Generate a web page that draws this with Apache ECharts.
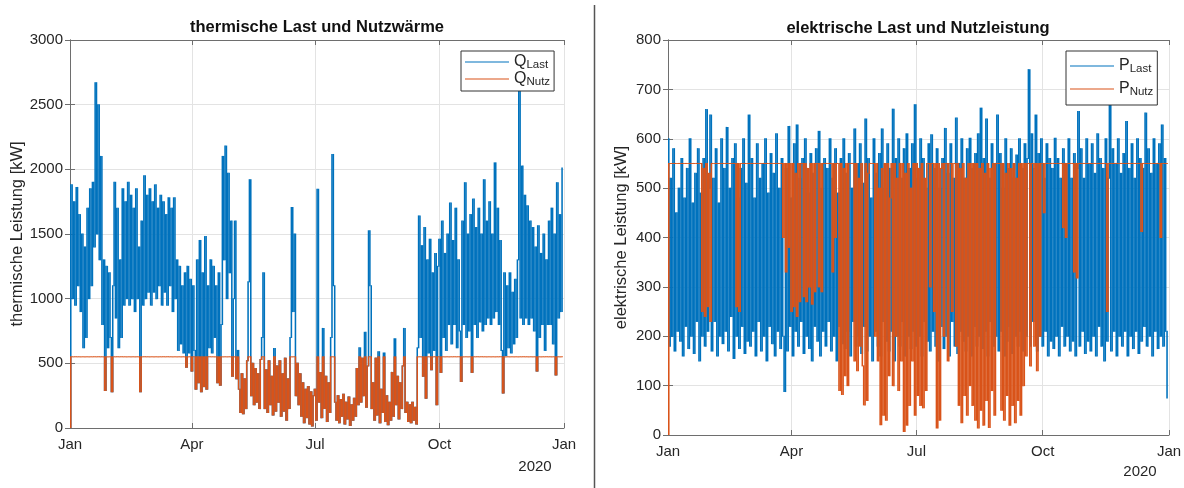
<!DOCTYPE html>
<html>
<head>
<meta charset="utf-8">
<script src="https://cdn.jsdelivr.net/npm/echarts@6/dist/echarts.min.js"></script>
<style>
  html, body { margin: 0; padding: 0; background: #fff; }
  #chart { width: 1184px; height: 488px; }
</style>
</head>
<body>
<div id="chart"></div>
<script>
// Tageswerte (kW), Index = Tag des Jahres 2019 (0 = 1. Jan)
var qLast = [
  0, 1880, 1000, 1750, 950, 1860, 1100, 1650, 900, 1500,
  620, 1400, 700, 1700, 1000, 1850, 1100, 1900, 1400, 2670,
  1500, 2500, 1300, 2100, 800, 1300, 290, 1250, 620, 1200,
  700, 280, 1100, 1900, 850, 1700, 620, 1300, 700, 1850,
  950, 1750, 1000, 1900, 950, 1800, 1000, 1700, 900, 1850,
  1000, 1400, 280, 1600, 950, 1950, 1000, 1800, 1050, 1850,
  950, 1750, 1050, 1880, 1000, 1700, 1100, 1800, 950, 1750,
  1050, 1650, 950, 1780, 1100, 1700, 900, 1780, 1000, 1300,
  600, 1250, 650, 1100, 580, 1200, 470, 1250, 580, 1150,
  440, 1100, 600, 300, 1300, 350, 1450, 280, 1200, 320,
  1480, 300, 1100, 620, 1300, 580, 1250, 700, 1100, 350,
  1200, 330, 800, 2100, 1300, 2180, 1000, 1970, 1200, 1600,
  400, 1000, 1600, 380, 600, 300, 120, 420, 110, 380,
  150, 520, 1130, 1920, 250, 500, 180, 460, 200, 420,
  150, 530, 700, 1200, 150, 450, 120, 520, 180, 400,
  100, 615, 130, 480, 200, 520, 90, 420, 130, 540,
  60, 380, 150, 700, 1705, 900, 1500, 250, 500, 180,
  420, 90, 350, 40, 300, 80, 320, 30, 280, 15,
  250, 300, 60, 1846, 200, 430, 80, 770, 150, 400,
  50, 350, 120, 700, 2115, 1100, 200, 60, 250, 40,
  220, 90, 260, 30, 200, 70, 240, 20, 180, 60,
  230, 90, 460, 180, 620, 200, 540, 250, 740, 160,
  480, 1525, 1100, 150, 350, 60, 540, 100, 590, 40,
  300, 120, 580, 50, 250, 25, 200, 60, 430, 90,
  690, 180, 400, 70, 350, 150, 480, 770, 120, 200,
  50, 180, 40, 200, 60, 160, 30, 620, 1640, 700,
  1410, 400, 1550, 230, 1300, 580, 1460, 450, 1200, 600,
  1350, 180, 1250, 1460, 430, 1600, 700, 1350, 600, 1500,
  800, 1740, 650, 1450, 800, 1700, 620, 1300, 750, 360,
  1600, 800, 1897, 700, 1500, 750, 1650, 430, 1770, 800,
  1550, 700, 1700, 820, 1500, 750, 1920, 800, 1600, 850,
  1750, 800, 1500, 850, 2050, 900, 1700, 800, 1450, 600,
  270, 1200, 560, 1100, 620, 1200, 580, 1050, 650, 1150,
  700, 1300, 2650, 850, 2025, 800, 1800, 850, 1718, 800,
  1600, 850, 1550, 750, 1400, 440, 1564, 700, 1350, 800,
  1500, 600, 1300, 800, 1600, 800, 1700, 650, 1500, 410,
  1897, 850, 1650, 900, 2010
];
var qNutz = [
  0, 550, 550, 550, 550, 550, 550, 550, 550, 550,
  550, 550, 550, 550, 550, 550, 550, 550, 550, 550,
  550, 550, 550, 550, 550, 550, 290, 550, 550, 550,
  550, 280, 550, 550, 550, 550, 550, 550, 550, 550,
  550, 550, 550, 550, 550, 550, 550, 550, 550, 550,
  550, 550, 280, 550, 550, 550, 550, 550, 550, 550,
  550, 550, 550, 550, 550, 550, 550, 550, 550, 550,
  550, 550, 550, 550, 550, 550, 550, 550, 550, 550,
  550, 550, 550, 550, 550, 550, 470, 550, 550, 550,
  440, 550, 550, 300, 550, 350, 550, 280, 550, 320,
  550, 300, 550, 550, 550, 550, 550, 550, 550, 350,
  550, 330, 550, 550, 550, 550, 550, 550, 550, 550,
  400, 550, 550, 380, 550, 300, 120, 420, 110, 380,
  150, 520, 550, 550, 250, 500, 180, 460, 200, 420,
  150, 530, 550, 550, 150, 450, 120, 520, 180, 400,
  100, 550, 130, 480, 200, 520, 90, 420, 130, 540,
  60, 380, 150, 550, 550, 550, 550, 250, 500, 180,
  420, 90, 350, 40, 300, 80, 320, 30, 280, 15,
  250, 300, 60, 550, 200, 430, 80, 550, 150, 400,
  50, 350, 120, 550, 550, 550, 200, 60, 250, 40,
  220, 90, 260, 30, 200, 70, 240, 20, 180, 60,
  230, 90, 460, 180, 550, 200, 540, 250, 550, 160,
  480, 550, 550, 150, 350, 60, 540, 100, 550, 40,
  300, 120, 550, 50, 250, 25, 200, 60, 430, 90,
  550, 180, 400, 70, 350, 150, 480, 550, 120, 200,
  50, 180, 40, 200, 60, 160, 30, 550, 550, 550,
  550, 400, 550, 230, 550, 550, 550, 450, 550, 550,
  550, 180, 550, 550, 430, 550, 550, 550, 550, 550,
  550, 550, 550, 550, 550, 550, 550, 550, 550, 360,
  550, 550, 550, 550, 550, 550, 550, 430, 550, 550,
  550, 550, 550, 550, 550, 550, 550, 550, 550, 550,
  550, 550, 550, 550, 550, 550, 550, 550, 550, 550,
  270, 550, 550, 550, 550, 550, 550, 550, 550, 550,
  550, 550, 550, 550, 550, 550, 550, 550, 550, 550,
  550, 550, 550, 550, 550, 440, 550, 550, 550, 550,
  550, 550, 550, 550, 550, 550, 550, 550, 550, 410,
  550, 550, 550, 550, 550
];
var pLast = [
  600, 180, 520, 200, 580, 170, 450, 210, 500, 190,
  560, 160, 480, 220, 540, 175, 600, 200, 470, 165,
  530, 230, 580, 150, 490, 200, 560, 180, 659, 210,
  500, 648, 170, 520, 230, 580, 160, 470, 200, 600,
  185, 540, 210, 623, 170, 500, 240, 560, 155, 590,
  200, 480, 175, 540, 220, 600, 165, 510, 190, 648,
  180, 560, 210, 480, 160, 590, 230, 520, 170, 550,
  200, 600, 150, 490, 220, 570, 185, 530, 160, 610,
  210, 500, 175, 560, 200, 88, 540, 170, 625, 220,
  480, 160, 590, 210, 628, 180, 520, 230, 560, 165,
  600, 200, 490, 175, 570, 150, 530, 220, 580, 190,
  615, 160, 500, 210, 560, 180, 540, 230, 600, 170,
  520, 200, 580, 150, 490, 220, 560, 185, 600, 175,
  530, 210, 570, 160, 500, 230, 620, 180, 550, 200,
  590, 165, 510, 220, 640, 170, 560, 200, 480, 150,
  600, 210, 530, 180, 570, 160, 620, 230, 500, 190,
  590, 170, 540, 210, 660, 150, 560, 200, 600, 180,
  520, 230, 580, 160, 610, 200, 540, 175, 590, 210,
  669, 180, 520, 200, 600, 160, 560, 230, 500, 190,
  590, 170, 608, 210, 540, 180, 580, 150, 500, 220,
  560, 175, 621, 200, 530, 160, 590, 230, 520, 180,
  642, 165, 550, 210, 600, 190, 520, 170, 580, 200,
  601, 160, 540, 220, 570, 180, 610, 200, 662, 175,
  560, 210, 640, 160, 520, 230, 590, 180, 550, 200,
  648, 170, 570, 210, 500, 160, 600, 190, 540, 220,
  580, 165, 520, 200, 567, 180, 600, 210, 540, 170,
  590, 200, 560, 740, 180, 610, 230, 540, 648, 170,
  570, 200, 600, 180, 520, 210, 590, 160, 560, 190,
  540, 175, 601, 200, 560, 160, 520, 220, 580, 180,
  550, 200, 600, 170, 520, 190, 570, 160, 540, 655,
  180, 580, 210, 520, 165, 600, 190, 550, 170, 590,
  200, 530, 160, 610, 220, 560, 180, 540, 150, 600,
  190, 520, 672, 170, 580, 210, 550, 160, 600, 200,
  530, 180, 570, 210, 635, 160, 540, 200, 590, 175,
  520, 210, 600, 165, 560, 190, 540, 220, 652, 180,
  580, 200, 530, 160, 600, 210, 550, 175, 590, 200,
  628, 180, 560, 210, 75
];
var pNutz = [
  0, 550, 550, 550, 550, 550, 550, 550, 550, 550,
  550, 550, 550, 550, 550, 550, 550, 550, 550, 550,
  550, 550, 550, 550, 550, 250, 540, 240, 550, 260,
  530, 230, 550, 550, 550, 550, 550, 550, 550, 550,
  550, 550, 550, 550, 550, 550, 550, 550, 550, 550,
  260, 550, 250, 550, 550, 550, 550, 550, 550, 550,
  550, 550, 550, 550, 550, 550, 550, 550, 550, 550,
  550, 550, 550, 550, 550, 550, 550, 550, 550, 550,
  550, 550, 550, 550, 400, 550, 330, 550, 380, 550,
  250, 550, 260, 530, 240, 550, 270, 550, 550, 280,
  550, 270, 540, 300, 550, 265, 550, 290, 550, 550,
  300, 550, 290, 550, 550, 550, 550, 550, 550, 550,
  330, 550, 400, 550, 550, 90, 550, 82, 540, 120,
  550, 100, 550, 550, 550, 550, 150, 550, 130, 520,
  180, 550, 140, 61, 550, 70, 530, 550, 550, 550,
  550, 200, 550, 150, 500, 21, 540, 40, 550, 30,
  550, 120, 480, 550, 100, 550, 200, 520, 90, 550,
  150, 550, 7, 530, 20, 550, 60, 500, 150, 550,
  40, 550, 80, 540, 60, 550, 55, 520, 90, 550,
  550, 300, 550, 550, 250, 550, 14, 550, 30, 540,
  550, 200, 550, 550, 150, 550, 550, 250, 550, 550,
  180, 550, 60, 540, 25, 550, 80, 520, 40, 550,
  100, 550, 60, 550, 30, 550, 14, 540, 50, 550,
  20, 530, 70, 550, 15, 540, 90, 550, 40, 550,
  550, 550, 550, 50, 550, 30, 530, 80, 550, 20,
  540, 60, 550, 25, 520, 70, 550, 40, 550, 100,
  550, 160, 550, 550, 140, 550, 550, 180, 550, 130,
  550, 200, 550, 550, 450, 550, 550, 550, 550, 550,
  550, 550, 550, 550, 550, 550, 550, 550, 420, 550,
  400, 550, 550, 550, 550, 550, 330, 550, 318, 550,
  550, 550, 550, 550, 550, 550, 550, 550, 550, 550,
  550, 550, 550, 550, 550, 550, 550, 550, 550, 550,
  250, 550, 550, 550, 550, 550, 550, 550, 550, 550,
  550, 550, 550, 550, 550, 550, 550, 550, 550, 550,
  550, 550, 550, 550, 550, 412, 550, 550, 550, 550,
  550, 550, 550, 550, 550, 550, 550, 550, 550, 400,
  550, 550, 550, 550, 550
];
// Achsenbeschriftung (Tag des Jahres -> Monat)
var tickDays = [0, 90, 181, 273, 365];
var tickLabels = ['Jan', 'Apr', 'Jul', 'Oct', 'Jan'];

var font = 'Liberation Sans, Arial, Helvetica, sans-serif';
var axisCol = '#6e6e6e', textCol = '#262626', gridCol = '#e3e3e3';
var blue = '#0072BD', orange = '#D95319';

function monthLabel(v) {
  var k = tickDays.indexOf(v);
  return k >= 0 ? tickLabels[k] : '';
}

function xAxisBottom(g) {
  return {
    gridIndex: g, type: 'value', min: 0, max: 365, position: 'bottom',
    axisLine: { show: true, onZero: false, lineStyle: { color: axisCol, width: 1 } },
    axisTick: { show: true, inside: true, length: 5, customValues: tickDays, lineStyle: { color: axisCol } },
    axisLabel: { customValues: tickDays, formatter: monthLabel, color: textCol, fontSize: 15, fontFamily: font, margin: 9 },
    splitLine: { show: true, lineStyle: { color: gridCol, width: 1 } }
  };
}
function xAxisTop(g) {
  return {
    gridIndex: g, type: 'value', min: 0, max: 365, position: 'top',
    axisLine: { show: true, onZero: false, lineStyle: { color: axisCol, width: 1 } },
    axisTick: { show: true, inside: true, length: 5, customValues: tickDays, lineStyle: { color: axisCol } },
    axisLabel: { show: false },
    splitLine: { show: false }
  };
}
function yAxisLeft(g, max, step, name, gap) {
  return {
    gridIndex: g, type: 'value', min: 0, max: max, interval: step, position: 'left',
    name: name, nameLocation: 'middle', nameGap: gap,
    nameTextStyle: { color: textCol, fontSize: 16.5, fontFamily: font },
    axisLine: { show: true, lineStyle: { color: axisCol, width: 1 } },
    axisTick: { show: true, inside: true, length: 5, lineStyle: { color: axisCol } },
    axisLabel: { color: textCol, fontSize: 15, fontFamily: font, margin: 7,
      formatter: function (v) { return String(v); } },
    splitLine: { show: true, lineStyle: { color: gridCol, width: 1 } }
  };
}
function yAxisRight(g, max, step) {
  return {
    gridIndex: g, type: 'value', min: 0, max: max, interval: step, position: 'right',
    axisLine: { show: true, lineStyle: { color: axisCol, width: 1 } },
    axisTick: { show: true, inside: true, length: 5, lineStyle: { color: axisCol } },
    axisLabel: { show: false },
    splitLine: { show: false }
  };
}
// Jeder Tag: senkrechter Strich vom Wert dieses Tages zum Wert des nächsten (wie die dichte Stundenkurve)
function traceSeries(name, arr, xi, yi, color) {
  var data = [];
  for (var i = 0; i < arr.length - 1; i++) data.push([i, arr[i], arr[i + 1]]);
  return {
    name: name, type: 'custom', xAxisIndex: xi, yAxisIndex: yi,
    data: data, encode: { x: 0, y: [1, 2] },
    itemStyle: { color: color }, silent: true, clip: true,
    renderItem: function (params, api) {
      var a = api.coord([api.value(0), api.value(1)]);
      var b = api.coord([api.value(0) + 1, api.value(2)]);
      var top = Math.min(a[1], b[1]), bot = Math.max(a[1], b[1]);
      return {
        type: 'rect',
        shape: { x: a[0], y: top - 0.5, width: b[0] - a[0] + 0.2, height: bot - top + 1 },
        style: { fill: color }
      };
    }
  };
}
function legendFor(names, left, top, gap, pad) {
  return {
    show: true,
    data: names, orient: 'vertical', left: left, top: top,
    icon: 'rect', itemWidth: 44, itemHeight: 1.2, itemGap: gap, padding: pad,
    backgroundColor: '#fff', borderColor: '#333', borderWidth: 1, borderRadius: 0,
    selectedMode: false,
    formatter: function (name) {
      var p = name.split('_');
      return '{m|' + p[0] + '}{s|' + p[1] + '}';
    },
    textStyle: {
      rich: {
        m: { fontSize: 16, lineHeight: 18, color: textCol, fontFamily: font },
        s: { fontSize: 11.5, lineHeight: 8, verticalAlign: 'bottom', color: textCol, fontFamily: font }
      }
    }
  };
}

var myChart = echarts.init(document.getElementById('chart'), null, { renderer: 'canvas' });
myChart.setOption({
  animation: false,
  backgroundColor: '#fff',
  grid: [
    { left: 70, top: 40, width: 494, height: 388, outerBoundsMode: 'none' },
    { left: 668, top: 40, width: 501, height: 395, outerBoundsMode: 'none' }
  ],
  xAxis: [xAxisBottom(0), xAxisTop(0), xAxisBottom(1), xAxisTop(1)],
  yAxis: [
    yAxisLeft(0, 3000, 500, 'thermische Leistung [kW]', 40),
    yAxisRight(0, 3000, 500),
    yAxisLeft(1, 800, 100, 'elektrische Leistung [kW]', 38),
    yAxisRight(1, 800, 100)
  ],
  legend: [
    legendFor(['Q_Last', 'Q_Nutz'], 461, 51, 0, [3, 4, 3, 4]),
    legendFor(['P_Last', 'P_Nutz'], 1066, 51, 6, [7, 4, 7, 4])
  ],
  series: [
    traceSeries('Q_Last', qLast, 0, 0, blue),
    traceSeries('Q_Nutz', qNutz, 0, 0, orange),
    traceSeries('P_Last', pLast, 2, 2, blue),
    traceSeries('P_Nutz', pNutz, 2, 2, orange)
  ],
  graphic: [
    { type: 'text', x: 317, y: 27, style: { text: 'thermische Last und Nutzwärme', align: 'center', verticalAlign: 'middle',
      font: 'bold 16.5px ' + font, fill: '#111' } },
    { type: 'text', x: 918, y: 28, style: { text: 'elektrische Last und Nutzleistung', align: 'center', verticalAlign: 'middle',
      font: 'bold 16.5px ' + font, fill: '#111' } },
    { type: 'text', x: 535, y: 467, style: { text: '2020', align: 'center', verticalAlign: 'middle',
      font: '15px ' + font, fill: textCol } },
    { type: 'text', x: 1140, y: 472, style: { text: '2020', align: 'center', verticalAlign: 'middle',
      font: '15px ' + font, fill: textCol } },
    { type: 'line', shape: { x1: 594.5, y1: 5, x2: 594.5, y2: 488 }, style: { stroke: '#555', lineWidth: 1.5 } }
  ]
});
window.addEventListener('resize', function () { myChart.resize(); });
</script>
</body>
</html>
